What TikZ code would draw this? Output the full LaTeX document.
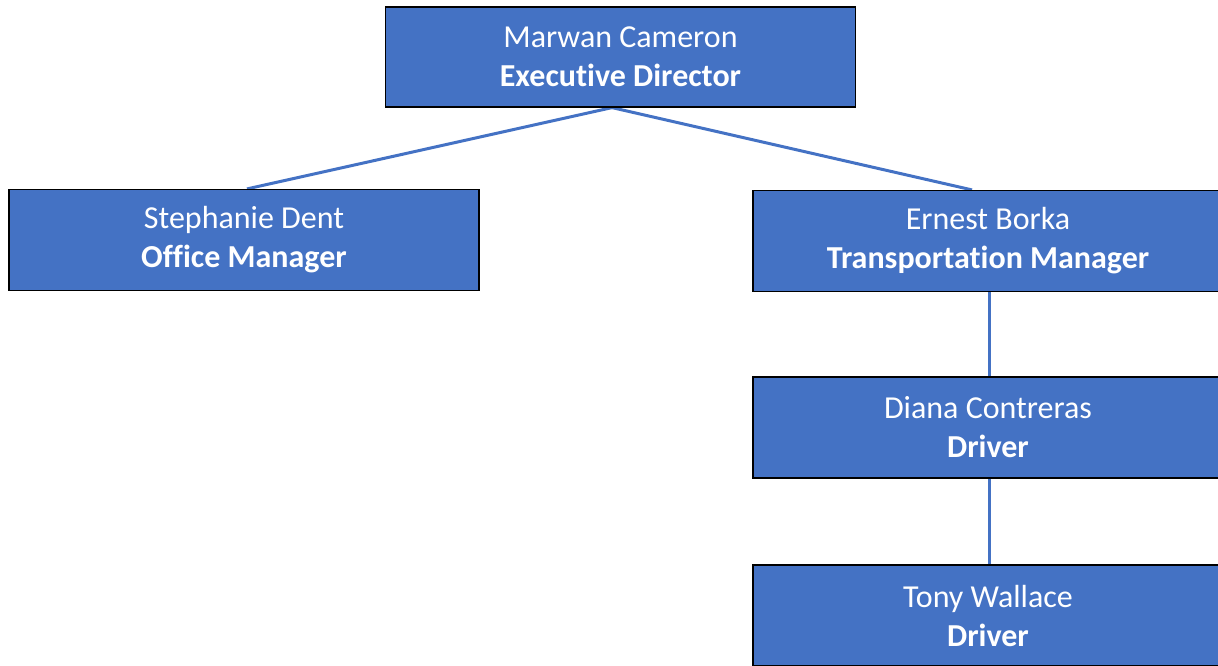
\documentclass[tikz,border=0pt]{standalone}
\usepackage{fontspec}
\setmainfont{Carlito}[Ligatures=CommonOff]
\usetikzlibrary{calc,backgrounds}
\definecolor{boxblue}{HTML}{4472C4}
\begin{document}
\begin{tikzpicture}[x=1pt,y=-1pt,
  person/.style={draw=black, line width=1.2pt, fill=boxblue, text=white,
    rectangle, minimum width=470pt, minimum height=101pt, inner sep=0pt,
    align=center, font=\fontsize{32}{39}\selectfont},
  link/.style={draw=boxblue, line width=3pt}]
\useasboundingbox (0,0) rectangle (1218,665);
\clip (0,0) rectangle (1218,665);

% people
\node[person, minimum height=100pt] (mc) at (620.5,57)
  {Marwan Cameron\\\textbf{Executive Director}};
\node[person] (sd) at (244,240)
  {Stephanie Dent\\\textbf{Office Manager}};
\node[person] (eb) at (988,241)
  {Ernest Borka\\\textbf{Transportation Manager}};
\node[person] (dc) at (988,427.5)
  {Diana Contreras\\\textbf{Driver}};
\node[person] (tw) at (988,615.5)
  {Tony Wallace\\\textbf{Driver}};

% reporting lines
\begin{scope}[on background layer]
  \draw[link] ($(mc.south)+(-8.5,0)$) -- ($(sd.north)+(3,0)$);
  \draw[link] ($(mc.south)+(-8.5,0)$) -- ($(eb.north)+(-16,0)$);
  \draw[link] ($(eb.south)+(1,0)$) -- ($(dc.north)+(1,0)$);
  \draw[link] ($(dc.south)+(1,0)$) -- ($(tw.north)+(1,0)$);
\end{scope}
\end{tikzpicture}
\end{document}
